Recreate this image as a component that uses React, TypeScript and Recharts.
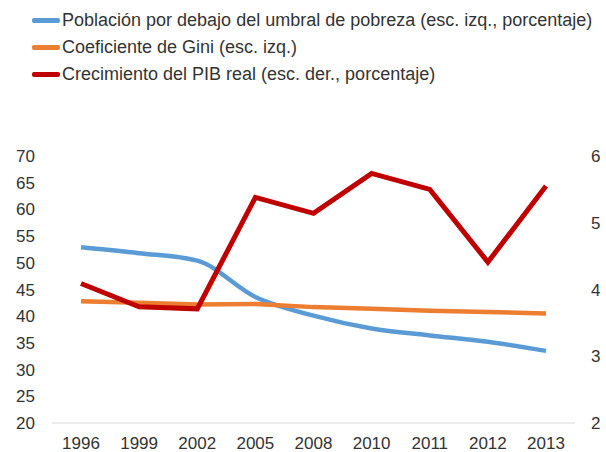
import React from 'react';
import { LineChart, Line, XAxis, YAxis, Legend } from 'recharts';

const years = ['1996', '1999', '2002', '2005', '2008', '2010', '2011', '2012', '2013'];
const poverty = [52.9, 51.8, 50.4, 43.6, 40.1, 37.7, 36.4, 35.2, 33.5];
const gini = [42.8, 42.5, 42.2, 42.3, 41.7, 41.4, 41.0, 40.8, 40.5];
const gdp = [4.09, 3.74, 3.71, 5.38, 5.14, 5.74, 5.5, 4.41, 5.55];
const leftTicks = [20, 25, 30, 35, 40, 45, 50, 55, 60, 65, 70];
const rightTicks = [2, 3, 4, 5, 6];

const seriesNames = [
  'Población por debajo del umbral de pobreza (esc. izq., porcentaje)',
  'Coeficiente de Gini (esc. izq.)',
  'Crecimiento del PIB real (esc. der., porcentaje)',
];
const colors = ['#5B9BD5', '#ED7D31', '#C00000'];

const data = years.map((y, i) => ({ year: y, poverty: poverty[i], gini: gini[i], gdp: gdp[i] }));

const font = 'Liberation Sans, Arial, sans-serif';

const LegendContent = () => (
  <div style={{ fontFamily: font, fontSize: 18, color: '#333333', whiteSpace: 'nowrap' }}>
    {seriesNames.map((n, i) => (
      <div key={n} style={{ display: 'flex', alignItems: 'center', height: 27 }}>
        <span style={{ display: 'inline-block', width: 28, height: 5, background: colors[i], borderRadius: 2, marginRight: 2 }} />
        <span>{n}</span>
      </div>
    ))}
  </div>
);

export default function App() {
  const tick = { fontFamily: font, fontSize: 17, fill: '#333333' };
  return (
    <div style={{ position: 'absolute', left: 0, top: 0, background: '#fff' }}>
      <LineChart width={606} height={452} data={data} margin={{ top: 156, right: 0, bottom: 0, left: 0 }}>
        <Legend
          layout="horizontal"
          verticalAlign="middle"
          align="center"
          content={<LegendContent />}
          wrapperStyle={{ top: 7, left: 32, width: 574, height: 84 }}
        />
        <XAxis
          dataKey="year"
          axisLine={{ stroke: '#D9D9D9' }}
          tickLine={false}
          tickSize={0}
          tickMargin={14}
          height={29}
          tick={tick}
          interval={0}
          padding={{ left: 29, right: 29 }}
        />
        <YAxis
          yAxisId="left"
          domain={[20, 70]}
          ticks={leftTicks}
          axisLine={false}
          tickLine={false}
          tickSize={0}
          tickMargin={17}
          width={52}
          tick={{ ...tick, textAnchor: 'end' }}
          interval={0}
        />
        <YAxis
          yAxisId="right"
          orientation="right"
          domain={[2, 6]}
          ticks={rightTicks}
          axisLine={false}
          tickLine={false}
          tickSize={0}
          tickMargin={16}
          width={31}
          tick={tick}
          interval={0}
        />
        <Line yAxisId="left" type="monotone" dataKey="poverty" name={seriesNames[0]} stroke={colors[0]} strokeWidth={4.5} dot={false} isAnimationActive={false} />
        <Line yAxisId="left" type="linear" dataKey="gini" name={seriesNames[1]} stroke={colors[1]} strokeWidth={4.5} dot={false} isAnimationActive={false} />
        <Line yAxisId="right" type="linear" dataKey="gdp" name={seriesNames[2]} stroke={colors[2]} strokeWidth={5} dot={false} isAnimationActive={false} />
      </LineChart>
    </div>
  );
}
